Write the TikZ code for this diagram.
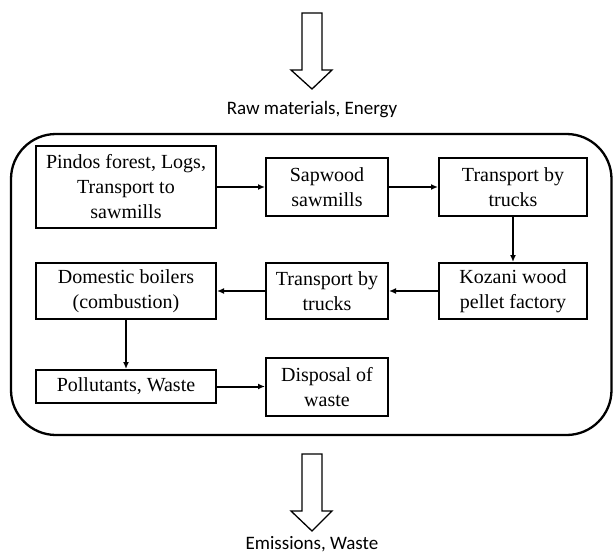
\documentclass[tikz,border=0pt]{standalone}
\usepackage{fontspec}
\setmainfont{Liberation Serif}
\newfontfamily\sansf{Carlito}
\usetikzlibrary{arrows.meta}
\begin{document}
\begin{tikzpicture}[x=1pt,y=-1pt,
  stepbox/.style={draw, line width=2pt, align=center, inner sep=2pt,
    font=\fontsize{20}{25}\selectfont},
  flow/.style={line width=2pt, -{Latex[length=7pt,width=6pt]}},
  bigarrow/.style={draw, line width=1.3pt, line join=miter},
  lbl/.style={font=\sansf\fontsize{19}{23}\selectfont, anchor=base, inner sep=0pt}
]
\useasboundingbox (0,0) rectangle (613,555);
% outer rounded frame
\draw[line width=2.3pt, rounded corners=45pt] (11,134) rectangle (611.5,435);
% hollow arrows
\draw[bigarrow] (302,13) -- (322,13) -- (322,70) -- (332,70) -- (312,89) -- (291,70) -- (302,70) -- cycle;
\draw[bigarrow] (302,454) -- (322,454) -- (322,511) -- (332,511) -- (312,531) -- (291,511) -- (302,511) -- cycle;
\node[lbl] (raw) at (312,114) {Raw materials, Energy};
\node[lbl] (emi) at (312,549) {Emissions, Waste};
% boxes
\node[stepbox, minimum width=180pt, minimum height=82pt] (A) at (126,187) {Pindos forest, Logs,\\Transport to\\sawmills};
\node[stepbox, minimum width=122pt, minimum height=58pt] (B) at (327,187) {Sapwood\\sawmills};
\node[stepbox, minimum width=148pt, minimum height=58pt] (C) at (513,187) {Transport by\\trucks};
\node[stepbox, minimum width=148pt, minimum height=56pt] (D) at (513,291) {Kozani wood\\pellet factory};
\node[stepbox, minimum width=122pt, minimum height=56pt] (E) at (327,291) {Transport by\\trucks};
\node[stepbox, minimum width=180pt, minimum height=56pt] (F) at (126,291) {Domestic boilers\\(combustion)};
\node[stepbox, minimum width=180pt, minimum height=33pt] (G) at (126,386.5) {Pollutants, Waste};
\node[stepbox, minimum width=122pt, minimum height=58pt] (H) at (327,387) {Disposal of\\waste};
% connectors
\draw[flow] (A.east) -- (B.west);
\draw[flow] (B.east) -- (C.west);
\draw[flow] (C.south) -- (D.north);
\draw[flow] (D.west) -- (E.east);
\draw[flow] (E.west) -- (F.east);
\draw[flow] (F.south) -- (G.north);
\draw[flow] (G.east) -- (H.west |- G.east);
\end{tikzpicture}
\end{document}
